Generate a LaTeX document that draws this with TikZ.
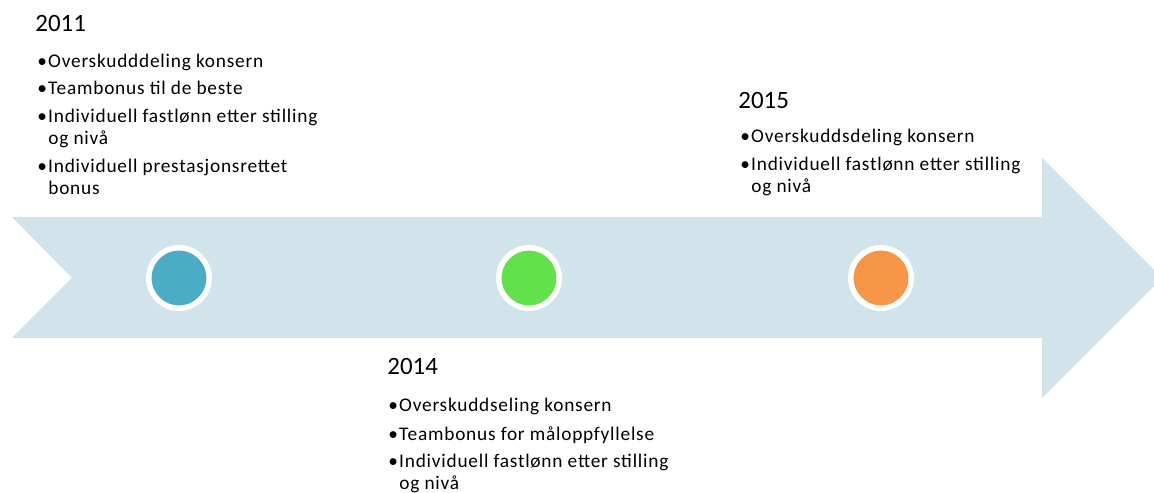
\documentclass[tikz,border=0pt]{standalone}
\usepackage{fontspec}
\setmainfont{Carlito}
\newfontfamily\entryfont[LetterSpace=4]{Carlito}

\definecolor{bandblue}{HTML}{D1E3EB}
\definecolor{dotteal}{HTML}{4BACC6}
\definecolor{dotgreen}{HTML}{62E14B}
\definecolor{dotorange}{HTML}{F79646}

\newcommand{\bul}{\makebox[6.2pt][l]{\textbullet}}

\tikzset{
  yearlabel/.style={anchor=base west, inner sep=0pt, font=\fontsize{14.2}{17}\selectfont},
  entry/.style={anchor=base west, inner sep=0pt, font=\entryfont\fontsize{11}{13}\selectfont},
  milestone/.style={circle, draw=white, line width=0.11cm, minimum size=1.21cm, inner sep=0pt},
}

\begin{document}
\begin{tikzpicture}[x=0.02cm, y=-0.02cm]
            \useasboundingbox (0, 0) rectangle (1154, 493);
            \clip (0, 0) rectangle (1154, 493);
            % band with notch and head
            \fill[bandblue] (12, 217) -- (1042, 217) -- (1042, 158) -- (1162, 278)
                -- (1042, 398) -- (1042, 338) -- (12, 338) -- (72, 278) -- cycle;
            \node[milestone, fill=dotteal] (m2011) at (179, 278) {};
            \node[milestone, fill=dotgreen] (m2014) at (529, 278) {};
            \node[milestone, fill=dotorange] (m2015) at (881, 278) {};
            % 2011
            \node[yearlabel] (y2011) at (35, 32) {2011};
            \node[entry] (a1) at (37, 68) {\bul Overskudddeling konsern};
            \node[entry] (a2) at (37, 95) {\bul Teambonus til de beste};
            \node[entry] (a3) at (37, 123) {\bul Individuell fastlønn etter stilling};
            \node[entry] (a3b) at (48, 145) {og nivå};
            \node[entry] (a4) at (37, 173) {\bul Individuell prestasjonsrettet};
            \node[entry] (a4b) at (48, 195) {bonus};
            % 2014
            \node[yearlabel] (y2014) at (387, 375) {2014};
            \node[entry] (b1) at (388, 412) {\bul Overskuddseling konsern};
            \node[entry] (b2) at (388, 440) {\bul Teambonus for måloppfyllelse};
            \node[entry] (b3) at (388, 468) {\bul Individuell fastlønn etter stilling};
            \node[entry] (b3b) at (399, 490) {og nivå};
            % 2015
            \node[yearlabel] (y2015) at (738, 109) {2015};
            \node[entry] (c1) at (740, 143) {\bul Overskuddsdeling konsern};
            \node[entry] (c2) at (740, 171) {\bul Individuell fastlønn etter stilling};
            \node[entry] (c2b) at (751, 193) {og nivå};
        \end{tikzpicture}
\end{document}
